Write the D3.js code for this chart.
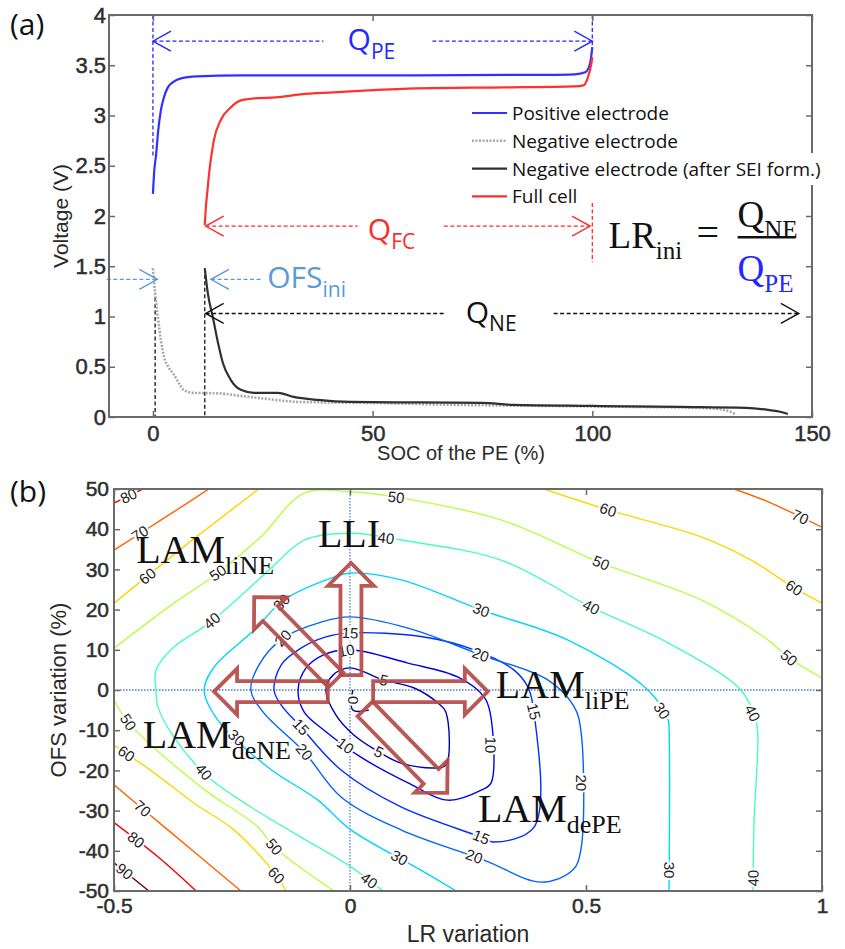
<!DOCTYPE html>
<html>
<head>
<meta charset="utf-8">
<script src="https://cdn.jsdelivr.net/npm/d3@7"></script>
<style>
  body { margin: 0; background: #fff; }
  svg { display: block; }
</style>
</head>
<body>
<div id="chart"></div>
<script>
// ---------------- panel (a): SOC of the PE (%) -> voltage (V) ----------------
const posElectrode = [[0,2.22],[0.3,2.45],[0.7,2.6],[1.2,2.85],[1.8,3.05],[2.5,3.18],[3.4,3.28],[4.5,3.33],[6.4,3.37],[10,3.39],[20,3.4],[60,3.4],[90,3.405],[96,3.41],[98.4,3.43],[99.5,3.52],[100,3.68]];
const negElectrode = [[0,1.48],[0.5,1.23],[1.1,1.0],[1.8,0.77],[2.5,0.6],[3.5,0.5],[4.8,0.42],[6,0.33],[7,0.27],[9.3,0.24],[15,0.235],[20,0.21],[26,0.18],[33,0.15],[50,0.14],[70,0.12],[90,0.11],[110,0.1],[125,0.09],[130,0.07],[132.5,0.03]];
const negElectrodeSEI = [[11.8,1.48],[12.5,1.23],[13.6,1.0],[14.8,0.74],[15.9,0.54],[17.7,0.37],[20,0.27],[23,0.24],[28.4,0.24],[32,0.2],[37.5,0.17],[45,0.15],[60,0.145],[75,0.14],[82,0.12],[100,0.11],[120,0.1],[135,0.09],[140,0.07],[143,0.05],[144.5,0.03]];
const fullCell = [[11.8,1.91],[12.0,2.06],[12.4,2.25],[12.8,2.43],[13.3,2.6],[13.9,2.76],[15.5,2.96],[17.7,3.08],[20,3.15],[23,3.17],[28,3.18],[33.6,3.21],[41,3.23],[49,3.25],[60,3.27],[80,3.28],[96,3.29],[98,3.3],[99,3.38],[99.8,3.52],[100,3.58]];

const seriesA = [["pos", posElectrode], ["neg", negElectrode], ["sei", negElectrodeSEI], ["full", fullCell]];
const legendA = [["pos", "Positive electrode"], ["neg", "Negative electrode"], ["sei", "Negative electrode (after SEI form.)"], ["full", "Full cell"]];

const ticksAx = [0, 50, 100, 150];
const ticksAy = [0, 0.5, 1, 1.5, 2, 2.5, 3, 3.5, 4];

// vertical marker lines: [SOC, V from, V to, key]
const markersA = [[0, 4, 2.6, "qpe"], [100, 4, 3.68, "qpe"], [100, 2.13, 1.54, "qfc"], [0.5, 1.19, 0, "qne"], [11.8, 1.48, 0, "qne"]];
// capacity arrows: [key, SOC from, SOC to, gap from, gap to, V]
const spansA = [["qpe", 0, 100, 38.8, 63.6, 3.74], ["qfc", 12, 99.5, 46.6, 66.2, 1.9], ["qne", 12, 147, 66.2, 91.2, 1.03]];
// OFS arrows: [SOC tail, SOC tip, V]
const ofsArrows = [[-10.5, 1.0, 1.37], [24.5, 13.2, 1.37]];
// text anchors: [key, main, sub, SOC, V]
const labelsA = [["qpe", "Q", "PE", 44.3, 3.65], ["qfc", "Q", "FC", 48.9, 1.76], ["qne", "Q", "NE", 71.2, 0.935], ["ofs", "OFS", "ini", 26, 1.28]];

// ---------------- panel (b): LR variation -> OFS variation (%) ----------------
const c0   = [[0.006,0],[0.006,-5],[0.04,-5]];
const c5   = [[0,5.5],[0.07,2.5],[0.136,0.5],[0.186,-3.2],[0.203,-5.5],[0.203,-18.7],[0.178,-19.4],[0.108,-18.2],[0.061,-15.4],[0.008,-11.2],[-0.03,-6.2],[-0.051,0],[-0.036,3.7]];
const c10  = [[0,10],[0.123,6.7],[0.229,3.2],[0.284,-1.7],[0.297,-5.7],[0.299,-23.1],[0.278,-24.9],[0.208,-27.4],[0.123,-23.1],[0.023,-16.7],[-0.055,-10],[-0.097,-5.5],[-0.11,0],[-0.093,5.5],[-0.057,8.7]];
const c15  = [[0,14.2],[0.157,13.2],[0.263,10],[0.347,5],[0.377,0.7],[0.39,-5.7],[0.39,-34.1],[0.303,-37.8],[0.278,-36.6],[0.108,-29.1],[-0.019,-19.9],[-0.104,-9.2],[-0.146,-3.7],[-0.161,0],[-0.146,6.2],[-0.104,10.4],[-0.051,13.2]];
const c20  = [[0,18.2],[0.123,15.4],[0.278,8.7],[0.419,2.5],[0.475,-4.2],[0.489,-10],[0.489,-39.8],[0.472,-44.8],[0.405,-47.8],[0.284,-42.3],[0.108,-34.8],[-0.019,-26.6],[-0.097,-15.4],[-0.184,-5.5],[-0.21,0],[-0.193,6.2],[-0.142,12.9],[-0.061,16.9]];
const c30  = [[0.225,-50],[0.15,-44.8],[0.002,-34.8],[-0.068,-27.4],[-0.174,-19.2],[-0.28,-7.5],[-0.309,0],[-0.288,5.7],[-0.203,14.9],[-0.14,22.4],[-0.034,28.1],[0,29.1],[0.108,27.4],[0.278,19.9],[0.462,12.4],[0.631,0],[0.674,-7.5],[0.676,-10],[0.676,-50]];
const c40  = [[0.07,-50],[0.002,-44],[-0.104,-36.6],[-0.21,-29.1],[-0.301,-21.6],[-0.373,-11.7],[-0.407,-4.2],[-0.411,0],[-0.411,5],[-0.373,10.7],[-0.3,16.5],[-0.24,22.5],[-0.17,30],[-0.097,37.3],[0.002,39],[0.108,37.3],[0.32,32.3],[0.511,20.6],[0.674,11.7],[0.828,0],[0.86,-7.5],[0.864,-11.7],[0.856,-33],[0.854,-50]];
const c50a = [[-0.5,10.4],[-0.373,21.6],[-0.28,29.1],[-0.189,38.1],[-0.097,49],[0.002,49.3],[0.108,47.8],[0.32,42.3],[0.532,31.6],[0.744,22.4],[0.886,12.4],[0.93,8],[1.0,3]];
const c50b = [[-0.5,-2.5],[-0.47,-8],[-0.316,-24.1],[-0.195,-34.1],[-0.161,-39],[-0.034,-50]];
const c60a = [[-0.5,21.6],[-0.347,36.1],[-0.193,50]];
const c60b = [[-0.5,-13.7],[-0.415,-20.6],[-0.331,-28.1],[-0.246,-34.8],[-0.153,-46.5],[-0.136,-50]];
const c60c = [[0.411,50],[0.547,44.8],[0.744,38.1],[0.85,32.3],[0.941,25.4],[1.0,21.6]];
const c70a = [[-0.5,34.8],[-0.4,42.3],[-0.299,50]];
const c70b = [[-0.5,-23.6],[-0.386,-34.8],[-0.231,-50]];
const c70c = [[0.814,50],[0.886,46.8],[1.0,40.5]];
const c80a = [[-0.5,46.5],[-0.439,50]];
const c80b = [[-0.5,-33],[-0.407,-41.5],[-0.326,-50]];
const c90  = [[-0.5,-43],[-0.426,-50]];

// [level, points, closed]
const contourLines = [[0,c0,false],[5,c5,true],[10,c10,true],[15,c15,true],[20,c20,true],[30,c30,false],[40,c40,false],
  [50,c50a,false],[50,c50b,false],[60,c60a,false],[60,c60b,false],[60,c60c,false],[70,c70a,false],[70,c70b,false],[70,c70c,false],
  [80,c80a,false],[80,c80b,false],[90,c90,false]];

// contour labels: [level, LR, OFS]
const contourLabels = [[80,-0.468,48],[70,-0.447,39.3],[60,-0.426,27.9],[50,-0.28,29.1],[40,-0.294,17.4],[30,-0.146,21.9],[20,-0.142,12.9],
  [15,0,14.4],[10,-0.008,10],[5,0.072,2.5],[0,0.023,-2.5],[50,0.097,47.3],[40,0.076,37.8],[60,0.547,44.8],[70,0.951,42.3],[50,0.532,31.6],
  [60,0.941,25.4],[40,0.511,20.6],[30,0.278,19.9],[20,0.278,9.2],[50,0.93,8],[30,0.663,-5],[40,0.854,-5.7],[10,0.294,-13.7],[15,0.377,-5.7],
  [20,0.483,-23.1],[15,0.278,-36.6],[20,0.263,-41.5],[30,0.674,-44.8],[40,0.86,-46.8],[50,-0.47,-8],[60,-0.479,-16.7],[70,-0.439,-29.4],
  [80,-0.458,-38],[90,-0.479,-45.3],[40,-0.273,-16.7],[30,-0.231,-10.7],[15,-0.104,-9.2],[20,-0.097,-15.4],[10,-0.013,-14.4],[5,0.061,-15.4],
  [50,-0.161,-39],[60,-0.167,-47.3],[40,0.038,-47.8],[30,0.102,-42.3]];

// degradation-mode arrows: [LR tail, OFS tail, LR tip, OFS tip]
const modeArrows = [[0.002,3.7,0.002,31.6],[-0.047,-0.4,-0.288,-0.4],[0.049,-0.4,0.292,-0.4],[-0.03,2.5,-0.203,23.1],[0.032,-4.7,0.206,-25.6]];
// mode names: [main, sub, LR, OFS]
const modeLabels = [["LLI","",-0.068,35.6],["LAM","liNE",-0.453,31.6],["LAM","deNE",-0.439,-14.4],["LAM","liPE",0.309,-2],["LAM","dePE",0.271,-32.8]];

const ticksBx = [-0.5, 0, 0.5, 1];
const ticksBy = [-50, -40, -30, -20, -10, 0, 10, 20, 30, 40, 50];

// ---------------- drawing ----------------
const SANS = "'Liberation Sans', Arial, sans-serif";
const CAL = "'Open Sans', 'Noto Sans', sans-serif";
const SERIF = "'Liberation Serif', 'DejaVu Serif', serif";

const colorsA = {pos: "#3030ff", neg: "#a8a8a8", sei: "#303030", full: "#ff3030", qpe: "#2626ff", qfc: "#ff2a2a", qne: "#111", ofs: "#5b9bd5"};

const svg = d3.select("#chart").append("svg")
    .attr("width", 845).attr("height", 949)
    .style("font-family", SANS);

function drawAxes(g, x, y, xt, yt, padX, padY, fs) {
    const [x0, x1] = x.range(), [y0, y1] = y.range();
    g.append("g").attr("transform", `translate(0,${y0})`)
        .call(d3.axisBottom(x).tickValues(xt).tickSize(-6).tickSizeOuter(0).tickPadding(padX).tickFormat(d => d));
    g.append("g").attr("transform", `translate(${x0},0)`)
        .call(d3.axisLeft(y).tickValues(yt).tickSize(-6).tickSizeOuter(0).tickPadding(padY).tickFormat(d => d));
    g.append("g").attr("transform", `translate(0,${y1})`)
        .call(d3.axisTop(x).tickValues(xt).tickSize(-6).tickSizeOuter(0).tickFormat(""));
    g.append("g").attr("transform", `translate(${x1},0)`)
        .call(d3.axisRight(y).tickValues(yt).tickSize(-6).tickSizeOuter(0).tickFormat(""));
    g.selectAll(".domain").remove();
    g.selectAll(".tick line").attr("stroke", "#6a6a6a").attr("stroke-width", 1.5);
    g.selectAll(".tick text").attr("fill", "#2e2e2e")
        .attr("stroke", "#2e2e2e").attr("stroke-width", 0.5)
        .style("font-size", fs + "px").style("font-family", SANS);
    g.append("rect")
        .attr("x", x0).attr("y", y1).attr("width", x1 - x0).attr("height", y0 - y1)
        .attr("fill", "none").attr("stroke", "#6a6a6a").attr("stroke-width", 2);
}

function chevron(g, x, y, dir, color) {
    g.append("path")
        .attr("d", `M${x - dir * 18},${y - 10}L${x},${y}L${x - dir * 18},${y + 10}`)
        .attr("fill", "none").attr("stroke", color).attr("stroke-width", 1.4);
}

function subText(g, x, y, main, sub, size, subSize, color, family) {
    const t = g.append("text").attr("x", x).attr("y", y)
        .attr("fill", color).style("font-family", family).style("font-size", size + "px");
    t.append("tspan").text(main);
    if (sub) t.append("tspan").attr("dy", size * 0.28).style("font-size", subSize + "px").text(sub);
    return t;
}

// ===== panel (a) =====
const xA = d3.scaleLinear().domain([-10, 150]).range([109, 812]);
const yA = d3.scaleLinear().domain([0, 4]).range([417, 15]);
const gA = svg.append("g");

const lineA = d3.line().x(d => xA(d[0])).y(d => yA(d[1])).curve(d3.curveMonotoneX);

// vertical markers
markersA.forEach(([s, v0, v1, k]) => {
    gA.append("line")
        .attr("x1", xA(s)).attr("x2", xA(s)).attr("y1", yA(v0)).attr("y2", yA(v1))
        .attr("stroke", colorsA[k]).attr("stroke-width", 1.3).attr("stroke-dasharray", "4,2.5");
});

seriesA.forEach(([k, data]) => {
    gA.append("path").datum(data)
        .attr("d", lineA)
        .attr("fill", "none")
        .attr("stroke", colorsA[k])
        .attr("stroke-width", k === "neg" ? 2.6 : 2.2)
        .attr("stroke-dasharray", k === "neg" ? "2,1.5" : null);
});

// capacity arrows
spansA.forEach(([k, a, b, ga, gb, v]) => {
    [[a, ga], [gb, b]].forEach(([s0, s1]) => {
        gA.append("line")
            .attr("x1", xA(s0)).attr("x2", xA(s1)).attr("y1", yA(v)).attr("y2", yA(v))
            .attr("stroke", colorsA[k]).attr("stroke-width", 1.3).attr("stroke-dasharray", "4,2.5");
    });
    chevron(gA, xA(a), yA(v), -1, colorsA[k]);
    chevron(gA, xA(b), yA(v), 1, colorsA[k]);
});

ofsArrows.forEach(([s0, s1, v]) => {
    gA.append("line")
        .attr("x1", xA(s0)).attr("x2", xA(s1)).attr("y1", yA(v)).attr("y2", yA(v))
        .attr("stroke", colorsA.ofs).attr("stroke-width", 1.3).attr("stroke-dasharray", "4,2.5");
    chevron(gA, xA(s1), yA(v), s1 > s0 ? 1 : -1, colorsA.ofs);
});

labelsA.forEach(([k, main, sub, s, v]) => {
    subText(gA, xA(s), yA(v), main, sub, 30, 21, colorsA[k], CAL);
});

// LR_ini = Q_NE / Q_PE
const eq = gA.append("g").attr("transform", `translate(${xA(103.7)},${yA(1.68)})`);
subText(eq, 0, 0, "LR", "ini", 37, 25, "#111", SERIF);
eq.append("text").attr("x", 88).attr("y", -2).text("=")
    .style("font-family", SERIF).style("font-size", "40px").attr("fill", "#111");
subText(eq, 129, -21, "Q", "NE", 37, 25, "#111", SERIF);
eq.append("line").attr("x1", 129).attr("x2", 187).attr("y1", -11).attr("y2", -11)
    .attr("stroke", "#111").attr("stroke-width", 2.5);
subText(eq, 129, 33, "Q", "PE", 37, 25, "#2626ff", SERIF);

drawAxes(gA, xA, yA, ticksAx, ticksAy, 8, 3, 22);

// legend (its white background hides the right axis where the long entry overhangs)
gA.append("rect").attr("x", 806).attr("y", 153).attr("width", 39).attr("height", 32).attr("fill", "#fff");
const lg = gA.append("g").attr("transform", "translate(472,113)");
legendA.forEach(([k, name], i) => {
    const row = lg.append("g").attr("transform", `translate(0,${i * 27.8})`);
    row.append("line").attr("x1", 0).attr("x2", 35).attr("y1", 0).attr("y2", 0)
        .attr("stroke", colorsA[k]).attr("stroke-width", k === "neg" ? 2.6 : 2.2)
        .attr("stroke-dasharray", k === "neg" ? "2,1.5" : null);
    row.append("text").attr("x", 40).attr("y", 7).text(name)
        .style("font-family", CAL).style("font-size", "19px").attr("fill", "#111");
});

gA.append("text").attr("x", 461).attr("y", 460).attr("text-anchor", "middle")
    .text("SOC of the PE (%)").style("font-size", "20px").attr("fill", "#2a2a2a");
gA.append("text").attr("transform", "translate(68,216) rotate(-90)").attr("text-anchor", "middle")
    .text("Voltage (V)").style("font-size", "21px").attr("fill", "#2a2a2a");
svg.append("text").attr("x", 10).attr("y", 35).text("(a)")
    .style("font-family", CAL).style("font-size", "30px").attr("fill", "#111");

// ===== panel (b) =====
const xB = d3.scaleLinear().domain([-0.5, 1]).range([114, 822]);
const yB = d3.scaleLinear().domain([-50, 50]).range([891, 489]);
const gB = svg.append("g");

function jet(v) {
    const t = v / 90, c = u => Math.max(0, Math.min(1, u));
    return d3.rgb(255 * c(1.5 - Math.abs(4 * t - 3)), 255 * c(1.5 - Math.abs(4 * t - 2)), 255 * c(1.5 - Math.abs(4 * t - 1))).formatHex();
}

svg.append("defs").append("clipPath").attr("id", "clipB")
    .append("rect").attr("x", 114).attr("y", 489).attr("width", 708).attr("height", 402);

// zero reference lines
gB.append("line").attr("x1", xB(0)).attr("x2", xB(0)).attr("y1", yB(50)).attr("y2", yB(-50))
    .attr("stroke", "#4f7fc4").attr("stroke-width", 1.3).attr("stroke-dasharray", "1.5,1.5");
gB.append("line").attr("x1", xB(-0.5)).attr("x2", xB(1)).attr("y1", yB(0)).attr("y2", yB(0))
    .attr("stroke", "#4f7fc4").attr("stroke-width", 1.3).attr("stroke-dasharray", "1.5,1.5");

const openLine = d3.line().x(d => xB(d[0])).y(d => yB(d[1])).curve(d3.curveCatmullRom.alpha(0.5));
const closedLine = d3.line().x(d => xB(d[0])).y(d => yB(d[1])).curve(d3.curveCatmullRomClosed.alpha(0.5));

const cg = gB.append("g").attr("clip-path", "url(#clipB)");
contourLines.forEach(([lev, pts, closed]) => {
    cg.append("path").datum(pts)
        .attr("d", closed ? closedLine : openLine)
        .attr("fill", "none").attr("stroke", jet(lev)).attr("stroke-width", 1.4);
});

// labels snapped onto their contour
function snap(level, lr, ofs) {
    const px = xB(lr), py = yB(ofs);
    let best = null;
    contourLines.filter(c => c[0] === level).forEach(([lev, pts, closed]) => {
        const P = closed ? pts.concat([pts[0]]) : pts;
        for (let i = 0; i < P.length - 1; i++) {
            const ax = xB(P[i][0]), ay = yB(P[i][1]), bx = xB(P[i + 1][0]), by = yB(P[i + 1][1]);
            const dx = bx - ax, dy = by - ay, l2 = dx * dx + dy * dy;
            let t = l2 ? ((px - ax) * dx + (py - ay) * dy) / l2 : 0;
            t = Math.max(0, Math.min(1, t));
            const qx = ax + t * dx, qy = ay + t * dy, d = (qx - px) ** 2 + (qy - py) ** 2;
            if (!best || d < best.d) best = {d: d, x: qx, y: qy, a: Math.atan2(dy, dx) * 180 / Math.PI};
        }
    });
    if (best.a > 90) best.a -= 180;
    if (best.a <= -90) best.a += 180;
    return best;
}

contourLabels.forEach(([lev, lr, ofs]) => {
    const p = snap(lev, lr, ofs);
    gB.append("text")
        .attr("transform", `translate(${p.x},${p.y}) rotate(${p.a})`)
        .attr("text-anchor", "middle").attr("dy", "0.35em")
        .text(lev)
        .style("font-size", "15px").attr("fill", "#222")
        .attr("stroke", "#fff").attr("stroke-width", 4).style("paint-order", "stroke");
});

drawAxes(gB, xB, yB, ticksBx, ticksBy, 7, 5, 21);

// block arrows
function blockArrow(x0, y0, x1, y1) {
    const L = Math.hypot(x1 - x0, y1 - y0), ux = (x1 - x0) / L, uy = (y1 - y0) / L, nx = -uy, ny = ux;
    const sw = 10.5, hw = 23, hl = 23, bx = x1 - ux * hl, by = y1 - uy * hl;
    const P = [[x0 + nx * sw, y0 + ny * sw], [bx + nx * sw, by + ny * sw], [bx + nx * hw, by + ny * hw], [x1, y1],
               [bx - nx * hw, by - ny * hw], [bx - nx * sw, by - ny * sw], [x0 - nx * sw, y0 - ny * sw]];
    return "M" + P.map(p => p.join(",")).join("L") + "Z";
}
modeArrows.forEach(([a0, o0, a1, o1]) => {
    gB.append("path").attr("d", blockArrow(xB(a0), yB(o0), xB(a1), yB(o1)))
        .attr("fill", "none").attr("stroke", "#b34a46").attr("stroke-width", 3.8)
        .attr("stroke-linejoin", "miter").attr("opacity", 0.92);
});

modeLabels.forEach(([main, sub, lr, ofs]) => {
    subText(gB, xB(lr), yB(ofs), main, sub, 40, 26, "#111", SERIF);
});

gB.append("text").attr("x", 468).attr("y", 942).attr("text-anchor", "middle")
    .text("LR variation").style("font-size", "23px").attr("fill", "#2a2a2a");
gB.append("text").attr("transform", "translate(66,690) rotate(-90)").attr("text-anchor", "middle")
    .text("OFS variation (%)").style("font-size", "22px").attr("fill", "#2a2a2a");
svg.append("text").attr("x", 10).attr("y", 502).text("(b)")
    .style("font-family", CAL).style("font-size", "30px").attr("fill", "#111");
</script>
</body>
</html>
